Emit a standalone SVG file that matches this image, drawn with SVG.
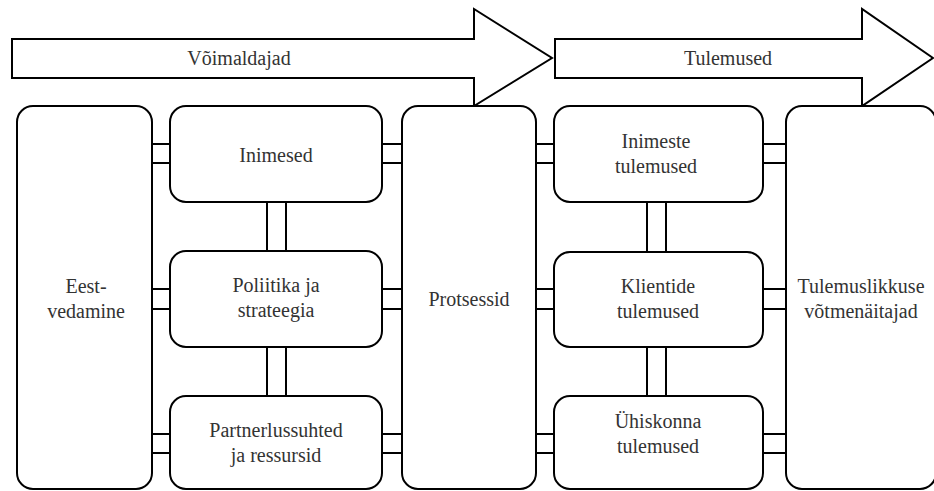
<svg xmlns="http://www.w3.org/2000/svg" width="934" height="491" viewBox="0 0 934 491">
<style>
  .arrow { fill: #fff; stroke: #000; stroke-width: 2; stroke-linejoin: miter; }
  .box { fill: #fff; stroke: #000; stroke-width: 2; }
  .conn line { stroke: #000; stroke-width: 2; }
</style>
<rect width="934" height="491" fill="#fff"/>
<g id="arrow-voimaldajad">
  <polygon class="arrow" points="12,39 474,39 474,9 552,58 474,106 474,78 12,78"/>
  <text font-family="Times New Roman, Liberation Serif, serif" font-size="20" fill="#333" text-anchor="middle" x="239" y="65">Võimaldajad</text>
</g>
<g id="arrow-tulemused">
  <polygon class="arrow" points="555,39 862,39 862,9 933,58 862,106 862,78 555,78"/>
  <text font-family="Times New Roman, Liberation Serif, serif" font-size="20" fill="#333" text-anchor="middle" x="728" y="65">Tulemused</text>
</g>
<g class="conn" id="connectors">
  <line x1="152" y1="144" x2="170" y2="144"/><line x1="152" y1="163" x2="170" y2="163"/>
  <line x1="152" y1="289" x2="170" y2="289"/><line x1="152" y1="309" x2="170" y2="309"/>
  <line x1="152" y1="434" x2="170" y2="434"/><line x1="152" y1="453" x2="170" y2="453"/>
  <line x1="382" y1="144" x2="402" y2="144"/><line x1="382" y1="163" x2="402" y2="163"/>
  <line x1="382" y1="289" x2="402" y2="289"/><line x1="382" y1="309" x2="402" y2="309"/>
  <line x1="382" y1="434" x2="402" y2="434"/><line x1="382" y1="453" x2="402" y2="453"/>
  <line x1="267" y1="202" x2="267" y2="251"/><line x1="286" y1="202" x2="286" y2="251"/>
  <line x1="267" y1="347" x2="267" y2="396"/><line x1="286" y1="347" x2="286" y2="396"/>
  <line x1="536" y1="144" x2="554" y2="144"/><line x1="536" y1="163" x2="554" y2="163"/>
  <line x1="536" y1="289" x2="554" y2="289"/><line x1="536" y1="309" x2="554" y2="309"/>
  <line x1="536" y1="434" x2="554" y2="434"/><line x1="536" y1="453" x2="554" y2="453"/>
  <line x1="763" y1="144" x2="786" y2="144"/><line x1="763" y1="163" x2="786" y2="163"/>
  <line x1="763" y1="289" x2="786" y2="289"/><line x1="763" y1="309" x2="786" y2="309"/>
  <line x1="763" y1="434" x2="786" y2="434"/><line x1="763" y1="453" x2="786" y2="453"/>
  <line x1="647" y1="202" x2="647" y2="252"/><line x1="666" y1="202" x2="666" y2="252"/>
  <line x1="647" y1="347" x2="647" y2="396"/><line x1="666" y1="347" x2="666" y2="396"/>
</g>
<g id="eestvedamine">
  <rect class="box" x="17" y="106" width="135" height="383" rx="16"/>
  <text font-family="Times New Roman, Liberation Serif, serif" font-size="20" fill="#333" text-anchor="middle" x="86" y="293">Eest-</text>
  <text font-family="Times New Roman, Liberation Serif, serif" font-size="20" fill="#333" text-anchor="middle" x="86" y="318">vedamine</text>
</g>
<g id="inimesed">
  <rect class="box" x="170" y="106" width="212" height="96" rx="16"/>
  <text font-family="Times New Roman, Liberation Serif, serif" font-size="20" fill="#333" text-anchor="middle" x="276" y="162">Inimesed</text>
</g>
<g id="poliitika">
  <rect class="box" x="170" y="251" width="212" height="96" rx="16"/>
  <text font-family="Times New Roman, Liberation Serif, serif" font-size="20" fill="#333" text-anchor="middle" x="276" y="292">Poliitika ja</text>
  <text font-family="Times New Roman, Liberation Serif, serif" font-size="20" fill="#333" text-anchor="middle" x="276" y="317">strateegia</text>
</g>
<g id="partnerlussuhted">
  <rect class="box" x="170" y="396" width="212" height="93" rx="16"/>
  <text font-family="Times New Roman, Liberation Serif, serif" font-size="20" fill="#333" text-anchor="middle" x="276" y="437">Partnerlussuhted</text>
  <text font-family="Times New Roman, Liberation Serif, serif" font-size="20" fill="#333" text-anchor="middle" x="276" y="462">ja ressursid</text>
</g>
<g id="protsessid">
  <rect class="box" x="402" y="106" width="134" height="383" rx="16"/>
  <text font-family="Times New Roman, Liberation Serif, serif" font-size="20" fill="#333" text-anchor="middle" x="469" y="306">Protsessid</text>
</g>
<g id="inimeste-tulemused">
  <rect class="box" x="554" y="106" width="209" height="96" rx="16"/>
  <text font-family="Times New Roman, Liberation Serif, serif" font-size="20" fill="#333" text-anchor="middle" x="656" y="148">Inimeste</text>
  <text font-family="Times New Roman, Liberation Serif, serif" font-size="20" fill="#333" text-anchor="middle" x="656" y="173">tulemused</text>
</g>
<g id="klientide-tulemused">
  <rect class="box" x="554" y="252" width="209" height="95" rx="16"/>
  <text font-family="Times New Roman, Liberation Serif, serif" font-size="20" fill="#333" text-anchor="middle" x="658" y="293">Klientide</text>
  <text font-family="Times New Roman, Liberation Serif, serif" font-size="20" fill="#333" text-anchor="middle" x="658" y="318">tulemused</text>
</g>
<g id="uhiskonna-tulemused">
  <rect class="box" x="554" y="396" width="209" height="93" rx="16"/>
  <text font-family="Times New Roman, Liberation Serif, serif" font-size="20" fill="#333" text-anchor="middle" x="658" y="428">Ühiskonna</text>
  <text font-family="Times New Roman, Liberation Serif, serif" font-size="20" fill="#333" text-anchor="middle" x="658" y="453">tulemused</text>
</g>
<g id="tulemuslikkuse">
  <rect class="box" x="786" y="106" width="150" height="383" rx="16"/>
  <text font-family="Times New Roman, Liberation Serif, serif" font-size="20" fill="#333" text-anchor="middle" x="861" y="293">Tulemuslikkuse</text>
  <text font-family="Times New Roman, Liberation Serif, serif" font-size="20" fill="#333" text-anchor="middle" x="861" y="318">võtmenäitajad</text>
</g>
</svg>
